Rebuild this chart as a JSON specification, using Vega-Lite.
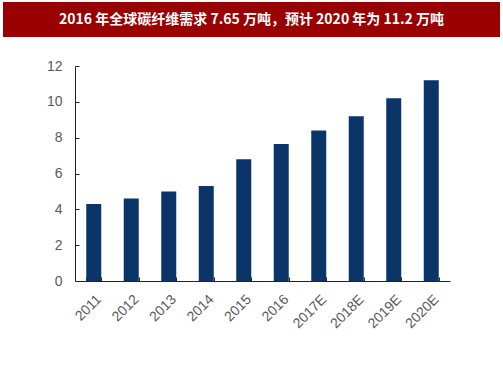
{
  "$schema": "https://vega.github.io/schema/vega-lite/v6.json",
  "padding": {"left": 3, "top": 2, "right": 3, "bottom": 0},
  "background": "white",
  "spacing": 22,
  "config": {"view": {"stroke": null}},
  "vconcat": [
    {
      "width": 497,
      "height": 35,
      "view": {"fill": "#990000", "stroke": null},
      "data": {"values": [{"t": "2016 年全球碳纤维需求 7.65 万吨，预计 2020 年为 11.2 万吨"}]},
      "mark": {"type": "text", "color": "white", "fontSize": 14, "fontWeight": "bold", "font": "Noto Sans CJK SC"},
      "encoding": {"text": {"field": "t"}}
    },
    {
      "spacing": 10,
      "hconcat": [
        {
          "width": 20,
          "height": 10,
          "data": {"values": []},
          "mark": "text",
          "encoding": {}
        },
        {
          "width": 375,
          "height": 215,
          "data": {"values": [
            {"year": "2011", "value": 4.3},
            {"year": "2012", "value": 4.6},
            {"year": "2013", "value": 5.0},
            {"year": "2014", "value": 5.3},
            {"year": "2015", "value": 6.8},
            {"year": "2016", "value": 7.65},
            {"year": "2017E", "value": 8.4},
            {"year": "2018E", "value": 9.2},
            {"year": "2019E", "value": 10.2},
            {"year": "2020E", "value": 11.2}
          ]},
          "mark": {"type": "bar", "color": "#0b3468"},
          "encoding": {
            "x": {
              "field": "year", "type": "nominal", "sort": null,
              "scale": {"paddingInner": 0.6, "paddingOuter": 0.3},
              "axis": {"title": null, "labelAngle": -45, "tickBand": "extent", "tickSize": -4, "labelPadding": 15,
                       "domainColor": "#222", "tickColor": "#222", "labelColor": "#595959", "labelFont": "Liberation Sans", "labelFontSize": 14}
            },
            "y": {
              "field": "value", "type": "quantitative",
              "scale": {"domain": [0, 12], "nice": false},
              "axis": {"title": null, "values": [0, 2, 4, 6, 8, 10, 12], "grid": false, "tickSize": -4, "labelPadding": 17,
                       "minExtent": 42, "maxExtent": 42,
                       "domainColor": "#222", "tickColor": "#222", "labelColor": "#595959", "labelFont": "Liberation Sans", "labelFontSize": 14}
            }
          }
        }
      ]
    }
  ]
}
